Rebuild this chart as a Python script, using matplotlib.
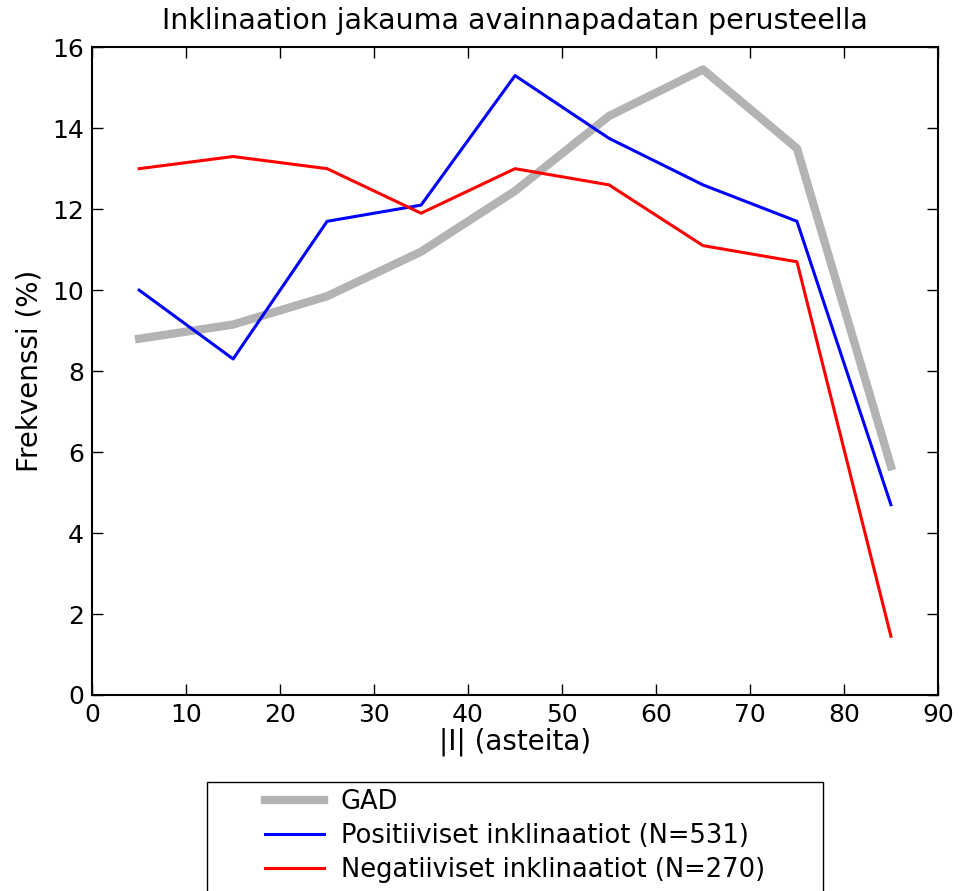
import matplotlib
matplotlib.use("Agg")
import matplotlib.pyplot as plt
from matplotlib.patches import Rectangle

# Inclination bins (bin centres, degrees) and frequencies (%)
inclination = [5, 15, 25, 35, 45, 55, 65, 75, 85]
gad = [8.8, 9.15, 9.85, 10.95, 12.45, 14.3, 15.45, 13.5, 5.65]
positive = [10.0, 8.3, 11.7, 12.1, 15.3, 13.75, 12.6, 11.7, 4.7]
negative = [13.0, 13.3, 13.0, 11.9, 13.0, 12.6, 11.1, 10.7, 1.45]

labels = ["GAD", "Positiiviset inklinaatiot (N=531)", "Negatiiviset inklinaatiot (N=270)"]

plt.rcParams["font.family"] = "DejaVu Sans"

fig = plt.figure(figsize=(9.6, 8.91), dpi=100)
ax = fig.add_axes([0.096, 0.22, 0.881, 0.727])

ax.plot(inclination, gad, color="#b3b3b3", lw=6, label=labels[0])
ax.plot(inclination, positive, color="blue", lw=2.2, label=labels[1])
ax.plot(inclination, negative, color="red", lw=2.2, label=labels[2])

ax.set_xlim(0, 90)
ax.set_ylim(0, 16)
ax.set_xticks(range(0, 91, 10))
ax.set_yticks(range(0, 17, 2))
ax.tick_params(direction="in", length=8, width=1, top=True, right=True,
               labelsize=18, pad=6)
for s in ax.spines.values():
    s.set_linewidth(1.5)

ax.set_xlabel("|I| (asteita)", fontsize=20, labelpad=0)
ax.set_ylabel("Frekvenssi (%)", fontsize=20, labelpad=6)
ax.set_title("Inklinaation jakauma avainnapadatan perusteella", fontsize=20.5, pad=13)

# legend below the axes; frame drawn separately with wide side margins
leg = ax.legend(loc="upper left", bbox_to_anchor=(0.268, 0.123),
                bbox_transform=fig.transFigure, fontsize=18.5, frameon=False,
                handlelength=2.3, handletextpad=0.65,
                borderpad=0.3, labelspacing=0.3, borderaxespad=0)

fig.canvas.draw()
bb = leg.get_window_extent().transformed(fig.transFigure.inverted())
side = 50 / 960
top = 1 - 782 / 891
frame = Rectangle((bb.x0 - side, -0.05), bb.width + 2 * side, top + 0.05,
                  transform=fig.transFigure, fill=False, edgecolor="black",
                  linewidth=1.0, clip_on=False)
fig.add_artist(frame)

fig.savefig("out.png", dpi=100)
